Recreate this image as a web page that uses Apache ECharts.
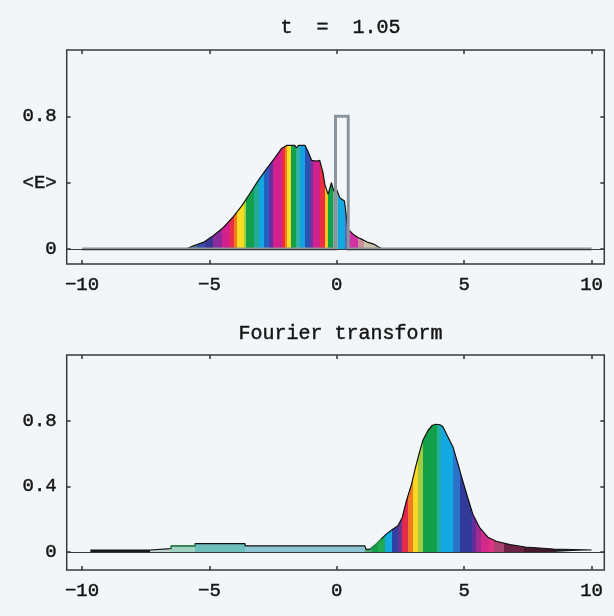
<!DOCTYPE html>
<html><head><meta charset="utf-8">
<script src="https://cdn.jsdelivr.net/npm/echarts@6/dist/echarts.min.js"></script>
<style>html,body{margin:0;padding:0;background:#f3f6f8;}#c{width:614px;height:616px;}</style>
</head><body><div id="c"></div>
<script>
// ---------- data ----------
const topTitle = 't  =  1.05';
const bottomTitle = 'Fourier transform';
const xTicks = [-10, -5, 0, 5, 10];
const topYTicks = [0, 0.4, 0.8];
const topYLabels = ['0', '<E>', '0.8'];
const ftYTicks = [0, 0.4, 0.8];
const ftYLabels = ['0', '0.4', '0.8'];

// upper panel: envelope of the wave packet
const topEnvX = [-5.9, -5.63, -5.24, -4.85, -4.45, -4.06, -3.73, -3.41, -3.08, -2.75, -2.43, -2.17, -1.97, -1.65, -1.58, -1.5, -1.25, -1.12, -0.99, -0.8, -0.67, -0.54, -0.47, -0.34, -0.21, -0.12, -0.01, 0.12, 0.3, 0.44, 0.64, 0.83, 0.97, 1.23, 1.45, 1.62, 1.8];
const topEnvY = [0.0, 0.02, 0.04, 0.08, 0.13, 0.196, 0.26, 0.335, 0.414, 0.485, 0.55, 0.606, 0.625, 0.625, 0.61, 0.625, 0.625, 0.585, 0.535, 0.53, 0.535, 0.46, 0.39, 0.33, 0.4, 0.35, 0.36, 0.31, 0.29, 0.12, 0.09, 0.07, 0.06, 0.04, 0.03, 0.014, 0.0];
// upper panel: phase colour bands
const topStripeEdges = [-5.9, -5.5, -5.17, -4.85, -4.5, -4.2, -4.05, -3.9, -3.65, -3.55, -3.25, -3.05, -2.85, -2.65, -2.5, -2.15, -2.05, -1.95, -1.8, -1.6, -1.45, -1.25, -1.07, -0.95, -0.67, -0.48, -0.36, -0.16, 0.04, 0.32, 0.45, 0.82, 1.05, 1.8];
const topStripeColors = ['#5a6e98', '#3c4ca6', '#3a3596', '#8a2c9c', '#d4208c', '#ea3040', '#f27a22', '#f8de22', '#a4d03a', '#12a04a', '#22aa92', '#12a6e2', '#2462c2', '#6232a2', '#d2208c', '#ea3040', '#f28022', '#f8de22', '#12a04a', '#32b2a2', '#12a2e2', '#2a52b2', '#7232a2', '#d2208c', '#ea3040', '#f8c422', '#12a04a', '#82aaa2', '#12aae2', '#6262b2', '#d232a2', '#c8909a', '#cac2aa'];
// upper panel: potential barrier
const barrierX = [-10, -0.05, -0.05, 0.45, 0.45, 10];
const barrierY = [0, 0, 0.8, 0.8, 0, 0];

// lower panel: Fourier transform envelope
const ftEnvX = [-9.67, -7.35, -7.35, -6.5, -6.5, -5.56, -5.56, -3.6, -3.6, 1.1, 1.15, 1.3, 1.37, 1.53, 1.75, 1.95, 2.21, 2.4, 2.57, 2.73, 2.93, 3.09, 3.25, 3.38, 3.58, 3.75, 3.9, 4.05, 4.16, 4.3, 4.56, 4.75, 4.95, 5.14, 5.34, 5.6, 5.93, 6.26, 6.8, 7.4, 8.5, 8.5, 10];
const ftEnvY = [0.012, 0.012, 0.02, 0.02, 0.037, 0.037, 0.051, 0.051, 0.037, 0.037, 0.016, 0.016, 0.022, 0.045, 0.08, 0.11, 0.14, 0.16, 0.21, 0.31, 0.41, 0.515, 0.61, 0.68, 0.74, 0.772, 0.778, 0.775, 0.765, 0.72, 0.64, 0.54, 0.43, 0.33, 0.23, 0.15, 0.09, 0.065, 0.045, 0.03, 0.018, 0.012, 0.012];
const ftStripeEdges = [-9.67, -7.35, -6.5, -5.56, -3.6, 1.1, 1.37, 1.6, 1.88, 2.15, 2.39, 2.55, 2.78, 2.98, 3.17, 3.37, 3.92, 4.11, 4.55, 4.82, 5.29, 5.48, 5.68, 5.99, 6.19, 6.58, 7.36, 8.5, 10];
const ftStripeColors = ['#1c1c1c', '#bcd4cc', '#9ed2c2', '#6ebebe', '#8ec6d6', '#4aa870', '#12a04a', '#22aa52', '#12a8e2', '#3242a2', '#6a3292', '#e22a4a', '#f27a22', '#f8d822', '#a2ca42', '#12a04a', '#22b0a2', '#12a8e2', '#2a72ca', '#323a9a', '#622e9a', '#a22a92', '#d22a8a', '#e23282', '#aa4272', '#6a2242', '#42182a', '#1c1c1c'];
// lower panel: green-outlined pieces of the envelope
const ftGreenStepX = [-6.5, -6.5, -5.56, -5.56];
const ftGreenStepY = [0.02, 0.037, 0.037, 0.051];
const ftGreenRiseX = [1.3, 1.37, 1.53, 1.75];
const ftGreenRiseY = [0.016, 0.022, 0.045, 0.08];

// ---------- helpers ----------
function pairs(xs, ys) { return xs.map((x, i) => [x, ys[i]]); }
function bandGradient(edges, colors, xs) {
  const x0 = xs[0], x1 = xs[xs.length - 1];
  const stops = [];
  colors.forEach((c, i) => {
    const a = Math.max(0, Math.min(1, (edges[i] - x0) / (x1 - x0)));
    const b = Math.max(0, Math.min(1, (edges[i + 1] - x0) / (x1 - x0)));
    stops.push({ offset: a, color: c }, { offset: b, color: c });
  });
  return new echarts.graphic.LinearGradient(0, 0, 1, 0, stops);
}

const FONT = 'Liberation Mono';
const TXT = '#151515';
const TEXT_EXTRA = { fontWeight: 'normal', color: TXT, textBorderColor: TXT, textBorderWidth: 0.45 };
const XMIN = -10.6, XMAX = 10.5;

function xAxes(gi) {
  const common = {
    type: 'value', gridIndex: gi, min: XMIN, max: XMAX,
    splitLine: { show: false },
    axisLine: { show: false, onZero: false },
    axisTick: { show: true, inside: true, length: 4, customValues: xTicks, lineStyle: { color: '#333', width: 1.5 } }
  };
  return [
    Object.assign({}, common, {
      position: 'bottom',
      axisLabel: Object.assign({ show: true, customValues: xTicks, margin: 11, fontFamily: FONT, fontSize: 19,
        formatter: v => (v < 0 ? '\u2212' + Math.abs(v) : String(v)) }, TEXT_EXTRA)
    }),
    Object.assign({}, common, { position: 'top', axisLabel: { show: false } })
  ];
}
function yAxes(gi, min, ticks, labels) {
  const common = {
    type: 'value', gridIndex: gi, min: min, max: 1.2,
    splitLine: { show: false },
    axisLine: { show: false, onZero: false },
    axisTick: { show: true, inside: true, length: 4, customValues: ticks, lineStyle: { color: '#333', width: 1.5 } }
  };
  return [
    Object.assign({}, common, {
      position: 'left',
      axisLabel: Object.assign({ show: true, customValues: ticks, margin: 10, fontFamily: FONT, fontSize: 19,
        formatter: v => { const i = ticks.findIndex(t => Math.abs(t - v) < 1e-9); return i >= 0 ? labels[i] : ''; } }, TEXT_EXTRA)
    }),
    Object.assign({}, common, { position: 'right', axisLabel: { show: false } })
  ];
}

const zeroLine = {
  silent: true, symbol: 'none', label: { show: false },
  lineStyle: { color: '#3a3a3a', width: 1.2, type: 'solid' },
  data: [{ yAxis: 0 }], animation: false
};
function greenLine(xs, ys) {
  return { type: 'line', xAxisIndex: 2, yAxisIndex: 2, data: pairs(xs, ys), showSymbol: false, symbol: 'none', z: 3,
    lineStyle: { color: '#2a9a50', width: 1.3 } };
}

const chart = echarts.init(document.getElementById('c'), null, { renderer: 'canvas' });
chart.setOption({
  animation: false,
  backgroundColor: '#f3f6f8',
  title: [
    { text: topTitle, left: 335.5, top: 13, textAlign: 'center',
      textStyle: Object.assign({ fontFamily: FONT, fontSize: 20 }, TEXT_EXTRA) },
    { text: bottomTitle, left: 335.5, top: 319, textAlign: 'center',
      textStyle: Object.assign({ fontFamily: FONT, fontSize: 20 }, TEXT_EXTRA) }
  ],
  grid: [
    { left: 66.7, width: 537.6, top: 50, height: 214, show: true, borderColor: '#3a3a3a', borderWidth: 1.5, backgroundColor: 'transparent', outerBoundsMode: 'none' },
    { left: 66.7, width: 537.6, top: 355, height: 215, show: true, borderColor: '#3a3a3a', borderWidth: 1.5, backgroundColor: 'transparent', outerBoundsMode: 'none' }
  ],
  xAxis: [...xAxes(0), ...xAxes(1)],
  yAxis: [...yAxes(0, -0.09, topYTicks, topYLabels), ...yAxes(1, -0.11, ftYTicks, ftYLabels)],
  series: [
    {
      type: 'line', xAxisIndex: 0, yAxisIndex: 0, data: pairs(topEnvX, topEnvY),
      showSymbol: false, symbol: 'none', z: 2,
      lineStyle: { color: '#111', width: 1.2 },
      areaStyle: { color: bandGradient(topStripeEdges, topStripeColors, topEnvX), opacity: 1, origin: 'auto' },
      markLine: zeroLine
    },
    {
      type: 'line', xAxisIndex: 0, yAxisIndex: 0, data: pairs(barrierX, barrierY),
      showSymbol: false, symbol: 'none', z: 4,
      lineStyle: { color: '#8a949c', width: 3, join: 'miter' }
    },
    {
      type: 'line', xAxisIndex: 2, yAxisIndex: 2, data: pairs(ftEnvX, ftEnvY),
      showSymbol: false, symbol: 'none', z: 2,
      lineStyle: { color: '#111', width: 1.2 },
      areaStyle: { color: bandGradient(ftStripeEdges, ftStripeColors, ftEnvX), opacity: 1, origin: 'auto' },
      markLine: zeroLine
    },
    greenLine(ftGreenStepX, ftGreenStepY),
    greenLine(ftGreenRiseX, ftGreenRiseY)
  ]
});
</script>
</body></html>
